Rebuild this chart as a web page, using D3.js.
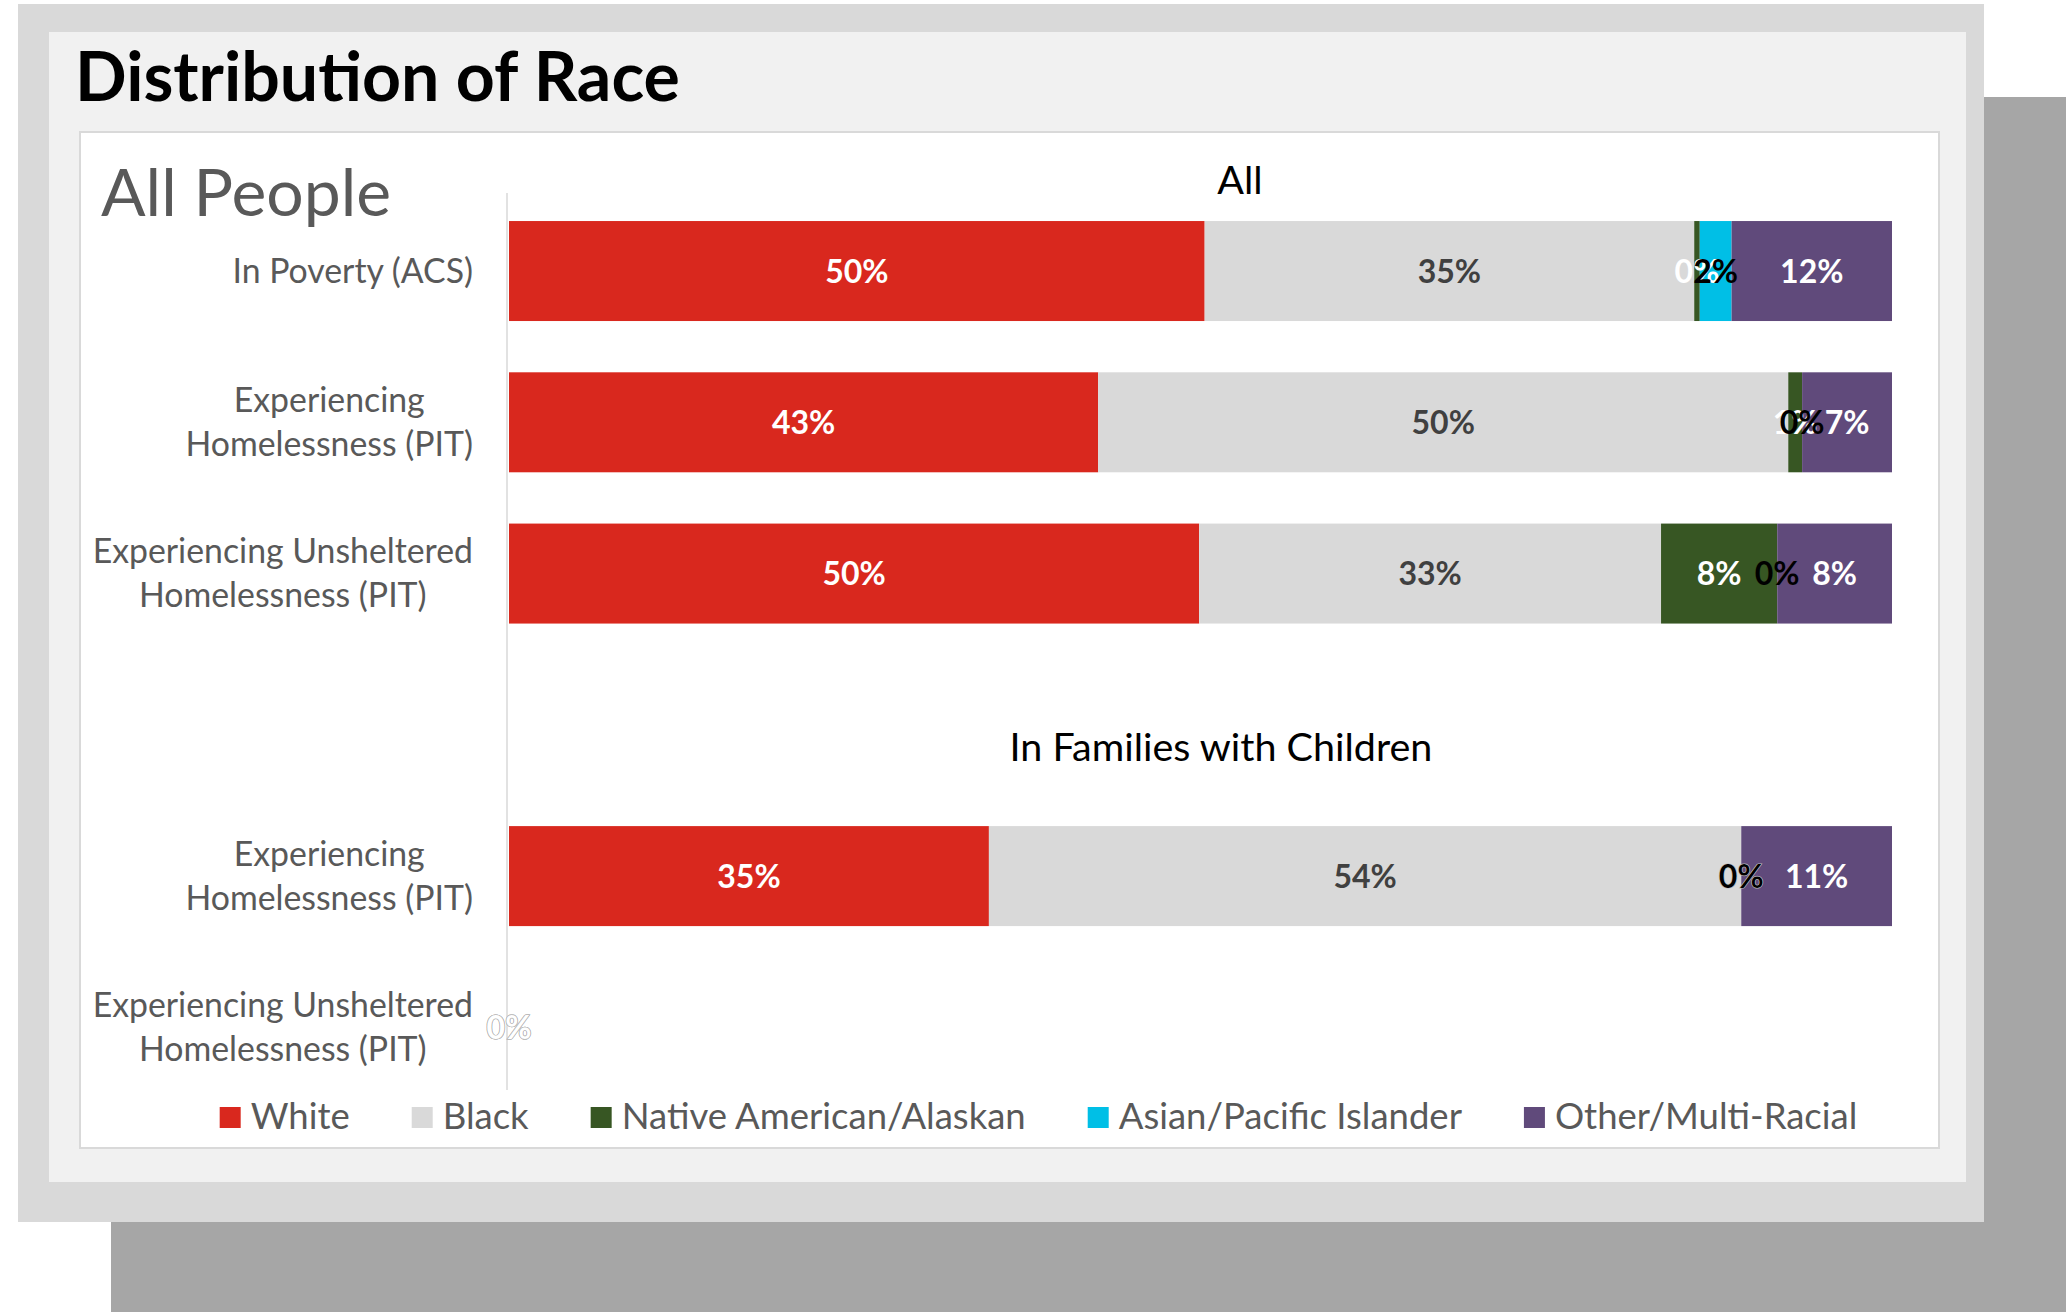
<!DOCTYPE html>
<html><head><meta charset="utf-8">
<script src="https://cdn.jsdelivr.net/npm/d3@7"></script>
<style>
body{margin:0;background:#fff;}
svg{display:block;}
text{font-family:Lato,"Open Sans",sans-serif;}
</style>
</head><body>
<svg id="c" width="2066" height="1312"></svg>
<script>
// ---- data ----
const categories = ["poverty","homeless","unsheltered","gap","famHomeless","famUnsheltered"];
const categoryLabels = [
  ["In Poverty (ACS)"],
  ["Experiencing","Homelessness (PIT)"],
  ["Experiencing Unsheltered","Homelessness (PIT)"],
  [],
  ["Experiencing","Homelessness (PIT)"],
  ["Experiencing Unsheltered","Homelessness (PIT)"]
];
const seriesNames = ["White","Black","Native American/Alaskan","Asian/Pacific Islander","Other/Multi-Racial"];
const whiteVals  = [50.3, 42.6, 49.9, null, 34.7, 0];
const blackVals  = [35.4, 49.9, 33.4, null, 54.4, 0];
const nativeVals = [0.4,  1.0,  8.4,  null, 0,    0];
const asianVals  = [2.3,  0,    0,    null, 0,    0];
const otherVals  = [11.6, 6.5,  8.3,  null, 10.9, 0];
const groupTitles = ["All","In Families with Children"];
const chartTitle = "Distribution of Race";
const subTitle = "All People";

// ---- styles ----
const colors = ["#d9281e","#d9d9d9","#375623","#00bfe6","#604a7b"];
const labelColors = ["#ffffff","#404040","#ffffff","#000000","#ffffff"];

const svg = d3.select("#c");

// background panels
svg.append("rect").attr("x",111).attr("y",97).attr("width",1955).attr("height",1215).attr("fill","#a6a6a6");
svg.append("rect").attr("x",18).attr("y",4).attr("width",1966).attr("height",1218).attr("fill","#d9d9d9");
svg.append("rect").attr("x",49).attr("y",32).attr("width",1917).attr("height",1150).attr("fill","#f1f1f1");
svg.append("rect").attr("x",80).attr("y",132).attr("width",1859).attr("height",1016)
   .attr("fill","#ffffff").attr("stroke","#d9d9d9").attr("stroke-width",2);

svg.append("text").attr("x",75).attr("y",101).attr("font-size",68).attr("font-weight",700)
   .attr("fill","#000").text(chartTitle);
svg.append("text").attr("x",101).attr("y",216).attr("font-size",66)
   .attr("fill","#595959").text(subTitle);

// scales
const x = d3.scaleLinear().domain([0,100]).range([509,1892]);
const y = d3.scaleBand().domain(categories).range([195.4,1103]).paddingInner(0.339).paddingOuter(0.1695);

// data table
const table = categories.map((c,i)=>({
  cat:c,
  [seriesNames[0]]: whiteVals[i],
  [seriesNames[1]]: blackVals[i],
  [seriesNames[2]]: nativeVals[i],
  [seriesNames[3]]: asianVals[i],
  [seriesNames[4]]: otherVals[i]
}));
const rows = table.filter(d=>d[seriesNames[0]]!==null);
const stacked = d3.stack().keys(seriesNames).value((d,k)=>d[k]||0)(rows);

// axis line
svg.append("line").attr("x1",507).attr("x2",507).attr("y1",193).attr("y2",1090)
   .attr("stroke","#d9d9d9").attr("stroke-width",1.5);

// bars
stacked.forEach((s,si)=>{
  svg.append("g").selectAll("rect").data(s).join("rect")
    .attr("x",d=>x(d[0])).attr("width",d=>Math.max(0,x(d[1])-x(d[0])))
    .attr("y",d=>y(d.data.cat)).attr("height",y.bandwidth())
    .attr("fill",colors[si]);
});

// data labels
stacked.forEach((s,si)=>{
  svg.append("g").selectAll("text").data(s).join("text")
    .attr("x",d=>(x(d[0])+x(d[1]))/2)
    .attr("y",d=>y(d.data.cat)+y.bandwidth()/2+11.5)
    .attr("text-anchor","middle").attr("font-size",32).attr("font-weight",700)
    .attr("fill",labelColors[si])
    .attr("stroke",d=>(d[1]-d[0]===0 && labelColors[si]==="#ffffff")?"#b8b8b8":"none")
    .attr("stroke-width",1.2).attr("paint-order","stroke")
    .text(d=>Math.round(d[1]-d[0])+"%");
});

// category labels
const rightEdge = 473, lineH = 44;
categories.forEach((c,i)=>{
  const lines = categoryLabels[i];
  if(!lines.length) return;
  const g = svg.append("g");
  const cy = y(c)+y.bandwidth()/2;
  const ts = lines.map((t,li)=>g.append("text")
     .attr("y",cy+11.5+(li-(lines.length-1)/2)*lineH)
     .attr("text-anchor","middle").attr("font-size",33.8).attr("fill","#595959").text(t));
  const w = d3.max(ts,t=>t.node().getComputedTextLength());
  ts.forEach(t=>t.attr("x",rightEdge-w/2));
});

// group titles
svg.append("text").attr("x",1240).attr("y",194).attr("text-anchor","middle")
   .attr("font-size",39.5).attr("fill","#000").text(groupTitles[0]);
svg.append("text").attr("x",1221).attr("y",761).attr("text-anchor","middle")
   .attr("font-size",39.5).attr("fill","#000").text(groupTitles[1]);

// legend
const lg = svg.append("g");
let cx = 0;
seriesNames.forEach((n,i)=>{
  const it = lg.append("g");
  it.append("rect").attr("x",0).attr("y",1107).attr("width",21).attr("height",21).attr("fill",colors[i]);
  const t = it.append("text").attr("x",31).attr("y",1129).attr("font-size",36.5).attr("fill","#595959").text(n);
  const w = 31 + t.node().getComputedTextLength();
  it.attr("transform",`translate(${cx},0)`);
  cx += w + 62;
});
const total = cx - 62;
lg.attr("transform",`translate(${1038.5-total/2},0)`);
</script>
</body></html>
